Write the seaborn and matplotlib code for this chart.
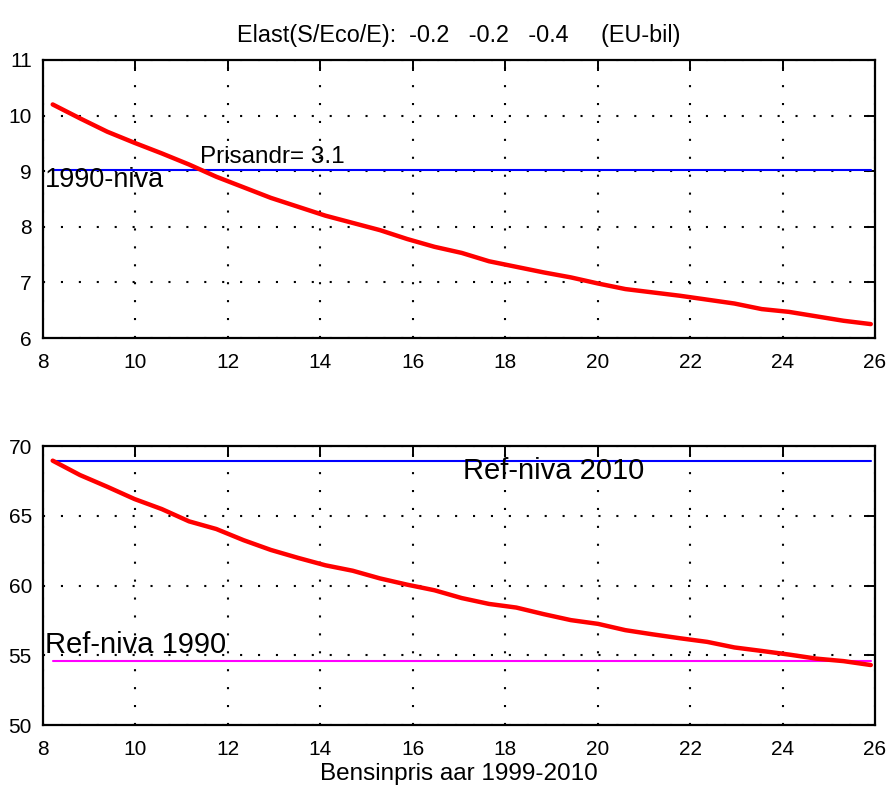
import numpy as np
import pandas as pd
import matplotlib
matplotlib.use("Agg")
import matplotlib.pyplot as plt
import seaborn as sns

# ---- data ----
bensinpris = [8.21, 8.80, 9.39, 9.98, 10.57, 11.16, 11.75, 12.34, 12.93, 13.52,
              14.11, 14.70, 15.29, 15.88, 16.47, 17.06, 17.65, 18.24, 18.83, 19.42,
              20.01, 20.60, 21.19, 21.78, 22.37, 22.96, 23.55, 24.14, 24.73, 25.32,
              25.91]
top_values = [10.20, 9.95, 9.71, 9.51, 9.32, 9.12, 8.90, 8.71, 8.52, 8.36,
              8.20, 8.07, 7.94, 7.78, 7.64, 7.53, 7.38, 7.28, 7.18, 7.09,
              6.98, 6.88, 6.82, 6.76, 6.69, 6.62, 6.52, 6.47, 6.39, 6.31,
              6.25]
bottom_values = [68.95, 67.92, 67.08, 66.20, 65.48, 64.60, 64.05, 63.25, 62.55, 61.98,
                 61.45, 61.06, 60.51, 60.06, 59.66, 59.10, 58.68, 58.42, 57.95, 57.52,
                 57.25, 56.80, 56.50, 56.22, 55.96, 55.56, 55.31, 55.05, 54.76, 54.58,
                 54.30]
niva_1990_top = 9.03
ref_niva_2010 = 68.95
ref_niva_1990 = 54.59

title_text = "Elast(S/Eco/E):  -0.2   -0.2   -0.4     (EU-bil)"
xlabel_text = "Bensinpris aar 1999-2010"
top_xticks = [8, 10, 12, 14, 16, 18, 20, 22, 24, 26]
top_yticks = [6, 7, 8, 9, 10, 11]
bottom_yticks = [50, 55, 60, 65, 70]

sns.set_style("white")
plt.rcParams['font.family'] = ['Liberation Sans', 'DejaVu Sans']
plt.rcParams['text.color'] = 'black'
plt.rcParams['axes.labelcolor'] = 'black'
plt.rcParams['xtick.color'] = 'black'
plt.rcParams['ytick.color'] = 'black'

fig = plt.figure(figsize=(8.9, 7.89), dpi=100)
ax1 = fig.add_axes([0.0483, 0.5716, 0.9348, 0.3524])
ax2 = fig.add_axes([0.0483, 0.0811, 0.9348, 0.3536])

df = pd.DataFrame({"x": bensinpris, "top": top_values, "bottom": bottom_values})

def style(ax, yticks):
    ax.set_xlim(8, 26)
    ax.set_xticks(top_xticks)
    ax.set_yticks(yticks)
    ax.set_ylim(yticks[0], yticks[-1])
    ax.grid(True, color='black', linestyle=(0, (1.0, 7.6)), linewidth=1.5)
    ax.tick_params(direction='in', length=8, width=1.4, top=True, right=True,
                   labelsize=15, colors='black', pad=8)
    ax.tick_params(axis='x', pad=11)
    for s in ax.spines.values():
        s.set_color('black')
        s.set_linewidth(1.6)
        s.set_visible(True)
    ax.set_xlabel("")
    ax.set_ylabel("")

# top panel
ax1.plot([bensinpris[0], bensinpris[-1]], [niva_1990_top, niva_1990_top],
         color='blue', lw=1.5, zorder=3)
sns.lineplot(data=df, x="x", y="top", ax=ax1, color='red', lw=3.2, zorder=4)
style(ax1, top_yticks)
ax1.text(11.40, 9.06, "Prisandr= 3.1", fontsize=17.5, ha='left', va='bottom')
ax1.text(8.05, 8.84, "1990-niva", fontsize=19.5, ha='left', va='center')
ax1.set_title(title_text, fontsize=16.8, pad=13, color='black')

# bottom panel
ax2.plot([bensinpris[0], bensinpris[-1]], [ref_niva_2010, ref_niva_2010],
         color='blue', lw=1.5, zorder=3)
ax2.plot([bensinpris[0], bensinpris[-1]], [ref_niva_1990, ref_niva_1990],
         color='magenta', lw=1.5, zorder=3)
sns.lineplot(data=df, x="x", y="bottom", ax=ax2, color='red', lw=3.2, zorder=4)
style(ax2, bottom_yticks)
ax2.text(17.08, 68.2, "Ref-niva 2010", fontsize=21, ha='left', va='center')
ax2.text(8.04, 55.7, "Ref-niva 1990", fontsize=21, ha='left', va='center')
ax2.set_xlabel(xlabel_text, fontsize=17.5, labelpad=3)

fig.savefig("out.png", dpi=100)
